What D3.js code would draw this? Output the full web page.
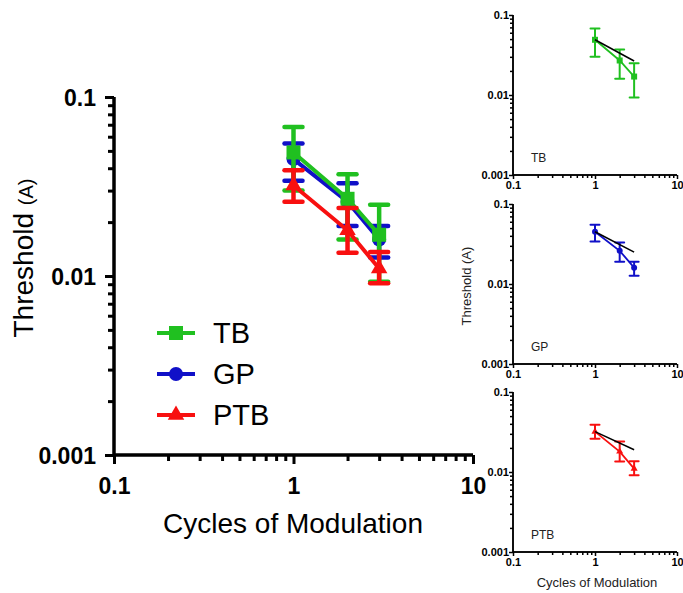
<!DOCTYPE html>
<html lang="en">
<head>
  <meta charset="UTF-8">
  <title>Threshold vs Cycles of Modulation</title>
  <style>
    body { margin: 0; background: #fff; }
    svg { display: block; font-family: "Liberation Sans", Arial, sans-serif; }
  </style>
</head>
<body>
  <div id="chart"></div>
  <script src="https://d3js.org/d3.v7.min.js"></script>
  <script>
    // values
    const cycles = [1, 2, 3];
    const groups = ['TB', 'GP', 'PTB'];
    const colors = { TB: '#20c020', GP: '#1010c8', PTB: '#f81010' };
    const means = {
      TB: [0.049, 0.027, 0.017],
      GP: [0.045, 0.026, 0.016],
      PTB: [0.032, 0.018, 0.011]
    };
    const upper = {
      TB: [0.068, 0.037, 0.025],
      GP: [0.055, 0.033, 0.019],
      PTB: [0.039, 0.024, 0.0136]
    };
    const lower = {
      TB: [0.030, 0.016, 0.0093],
      GP: [0.034, 0.019, 0.0127],
      PTB: [0.026, 0.0135, 0.0091]
    };
    // black reference line in the small panels, from cycle 1 to cycle 3
    const fitCycles = [1, 3];
    const fits = {
      TB: [0.049, 0.0266],
      GP: [0.045, 0.025],
      PTB: [0.032, 0.019]
    };
    const yMajor = [0.001, 0.01, 0.1];
    const xMajor = [0.1, 1, 10];
    const drawOrder = ['GP', 'TB', 'PTB'];

    const svg = d3.select('#chart').append('svg')
      .attr('width', 683)
      .attr('height', 593);

    function minorTicks(lo, hi) {
      const out = [];
      for (let d = lo; d < hi; d *= 10) {
        for (let k = 2; k <= 9; k++) out.push(d * k);
      }
      return out;
    }

    function drawAxes(g, x, y, opt) {
      const yAx = g.append('g').attr('transform', `translate(${x.range()[0]},0)`);
      yAx.call(d3.axisLeft(y).tickValues(minorTicks(0.001, 0.1)).tickSize(opt.minor).tickFormat(''));
      yAx.append('g').call(d3.axisLeft(y).tickValues(yMajor).tickSize(opt.major)
        .tickFormat(d3.format('~g')));
      const xAx = g.append('g').attr('transform', `translate(0,${y.range()[0]})`);
      xAx.call(d3.axisBottom(x).tickValues(minorTicks(0.1, 10)).tickSize(opt.minor).tickFormat(''));
      xAx.append('g').call(d3.axisBottom(x).tickValues(xMajor).tickSize(opt.major)
        .tickFormat(d3.format('~g')));

      g.selectAll('.domain').attr('stroke', '#000').attr('stroke-width', opt.sw);
      g.selectAll('.tick line').attr('stroke', '#000').attr('stroke-width', opt.sw);
      g.selectAll('.tick text')
        .attr('font-family', '"Liberation Sans", Arial, sans-serif')
        .attr('font-weight', 'bold')
        .attr('font-size', opt.fs)
        .attr('fill', '#000');
      yAx.selectAll('.tick text').attr('x', -opt.major - opt.pad).attr('dy', '0.35em');
      xAx.selectAll('.tick text').attr('y', opt.major + opt.padX).attr('dy', '0.71em');
      // flat domain ends (no outer ticks)
      yAx.selectAll('.domain').attr('d', `M0,${y.range()[0]}V${y.range()[1]}`);
      xAx.selectAll('.domain').attr('d', `M${x.range()[0]},0H${x.range()[1]}`);
    }

    function marker(sel, name, size) {
      if (name === 'TB') {
        sel.append('rect').attr('x', -size / 2).attr('y', -size / 2)
          .attr('width', size).attr('height', size).attr('fill', colors[name]);
      } else if (name === 'GP') {
        sel.append('circle').attr('r', size / 2).attr('fill', colors[name]);
      } else {
        sel.append('path').attr('d', d3.symbol(d3.symbolTriangle, size * size * 0.6)())
          .attr('fill', colors[name]);
      }
    }

    function drawSeries(g, x, y, name, opt) {
      const s = g.append('g');
      const pts = cycles.map((c, i) => ({ c, m: means[name][i], u: upper[name][i], l: lower[name][i] }));
      s.append('path')
        .datum(pts)
        .attr('fill', 'none')
        .attr('stroke', colors[name])
        .attr('stroke-width', opt.lw)
        .attr('d', d3.line().x(d => x(d.c)).y(d => y(d.m)));
      pts.forEach(d => {
        const cx = x(d.c);
        s.append('line').attr('x1', cx).attr('x2', cx).attr('y1', y(d.u)).attr('y2', y(d.l))
          .attr('stroke', colors[name]).attr('stroke-width', opt.ew);
        [d.u, d.l].forEach(v => {
          s.append('line').attr('x1', cx - opt.cap / 2).attr('x2', cx + opt.cap / 2)
            .attr('y1', y(v)).attr('y2', y(v))
            .attr('stroke', colors[name]).attr('stroke-width', opt.ew).attr('stroke-linecap', 'round');
        });
        marker(s.append('g').attr('transform', `translate(${cx},${y(d.m)})`), name, opt.ms);
      });
    }

    // ---------- main chart ----------
    const main = svg.append('g');
    const mx = d3.scaleLog().domain([0.1, 10]).range([114, 473]);
    const my = d3.scaleLog().domain([0.001, 0.1]).range([455, 97]);
    drawAxes(main, mx, my, { minor: 6, major: 9, sw: 3, fs: 23, pad: 9, padX: 14 });
    drawOrder.forEach(name => {
      drawSeries(main, mx, my, name, { lw: 4, ew: 4.5, cap: 18, ms: 14 });
    });

    main.append('text')
      .attr('x', 293).attr('y', 533)
      .attr('text-anchor', 'middle')
      .attr('font-size', 28)
      .text('Cycles of Modulation');

    const yl = main.append('text')
      .attr('transform', 'translate(33,258) rotate(-90)')
      .attr('text-anchor', 'middle')
      .attr('font-size', 28);
    yl.append('tspan').text('Threshold ');
    yl.append('tspan').attr('font-size', 20).text('(A)');

    // legend
    groups.forEach((name, i) => {
      const ly = 333 + i * 41;
      const lg = main.append('g').attr('transform', `translate(0,${ly})`);
      lg.append('line').attr('x1', 157).attr('x2', 195).attr('y1', 0).attr('y2', 0)
        .attr('stroke', colors[name]).attr('stroke-width', 4);
      marker(lg.append('g').attr('transform', 'translate(176,0)'), name, 14);
      lg.append('text').attr('x', 213).attr('y', 10).attr('font-size', 29).text(name);
    });

    // ---------- small panels ----------
    const panelTops = { TB: 15, GP: 204, PTB: 392 };
    groups.forEach(name => {
      const top = panelTops[name];
      const g = svg.append('g');
      const sx = d3.scaleLog().domain([0.1, 10]).range([513, 677]);
      const sy = d3.scaleLog().domain([0.001, 0.1]).range([top + 160, top]);
      drawAxes(g, sx, sy, { minor: 3, major: 4, sw: 1.5, fs: 11, pad: 0, padX: 2 });
      drawSeries(g, sx, sy, name, { lw: 1.8, ew: 2, cap: 9, ms: 6 });
      g.append('path')
        .datum(fitCycles.map((c, i) => [c, fits[name][i]]))
        .attr('fill', 'none').attr('stroke', '#000').attr('stroke-width', 1.5)
        .attr('d', d3.line().x(d => sx(d[0])).y(d => sy(d[1])));
      g.append('text').attr('x', 531).attr('y', top + 147)
        .attr('font-size', 12).attr('fill', '#222').text(name);
    });

    svg.append('text')
      .attr('x', 597).attr('y', 587)
      .attr('text-anchor', 'middle')
      .attr('font-size', 13).attr('fill', '#222')
      .text('Cycles of Modulation');
    svg.append('text')
      .attr('transform', 'translate(471,286) rotate(-90)')
      .attr('text-anchor', 'middle')
      .attr('font-size', 13).attr('fill', '#222')
      .text('Threshold (A)');
  </script>
</body>
</html>
